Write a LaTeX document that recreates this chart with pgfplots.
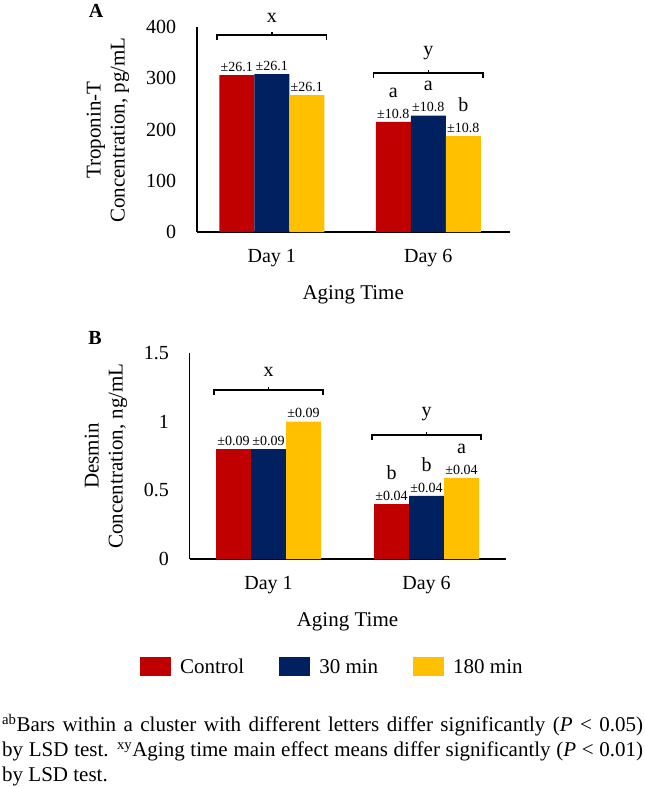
\documentclass[border=0pt]{standalone}
\usepackage{fontspec}
\setmainfont{Liberation Serif}
\usepackage{pgfplots}
\pgfplotsset{compat=1.18}

\definecolor{cred}{RGB}{192,0,0}
\definecolor{cnavy}{RGB}{0,32,96}
\definecolor{cgold}{RGB}{255,192,0}

\pgfplotsset{
  panel/.style={
    scale only axis,
    axis lines=left,
    axis line style={line width=1.8pt,-},
    ybar, bar width=35pt,
    xtick={0,1}, xticklabels={Day 1,Day 6},
    major tick length=0pt,
    tick label style={font=\fontsize{20}{24}\selectfont},
    /pgf/number format/assume math mode=true,
    yticklabel style={xshift=-17pt},
    xticklabel style={yshift=-14pt},
    ymin=0, clip=false,
    xlabel={Aging Time},
    every axis x label/.style={at={(axis description cs:0.5,0)}, anchor=base,
      yshift=-67pt, font=\fontsize{21}{24}\selectfont},
    point meta=explicit symbolic,
    nodes near coords=\pgfplotspointmeta,
    every node near coord/.append style={align=center, text=black,
      font=\fontsize{14}{21}\selectfont},
  },
  s1/.style={fill=cred, draw=none, bar shift=-35pt},
  s2/.style={fill=cnavy, draw=none, bar shift=0pt},
  s3/.style={fill=cgold, draw=none, bar shift=35pt},
}
\tikzset{
  brk/.style={line width=1.6pt},
  lett/.style={anchor=base, font=\fontsize{20}{24}\selectfont},
}
\newcommand{\lt}[1]{{\fontsize{20}{21}\selectfont #1}}

\begin{document}
\begin{tikzpicture}
\useasboundingbox (0,0) rectangle (645pt,-788pt);

% ---- panel A
\begin{axis}[panel,
  at={(196.7pt,-232pt)}, anchor=south west,
  width=313pt, height=205pt,
  xmin=-0.48, xmax=1.52,
  ymax=400, ytick={0,100,200,300,400},
]
\addplot[s1] coordinates {(0,306) [{±26.1}] (1,215) [{\lt{a}\\±10.8}]};
\addplot[s2] coordinates {(0,308) [{±26.1}] (1,227) [{\lt{a}\\±10.8}]};
\addplot[s3] coordinates {(0,267) [{±26.1}] (1,187) [{\lt{b}\\±10.8}]};

\draw[brk] ([yshift=-5pt]axis cs:-0.35,384) -- (axis cs:-0.35,384) -- (axis cs:0.35,384) -- ([yshift=-5pt]axis cs:0.35,384);
\draw[brk] (axis cs:0,384) -- ([yshift=3pt]axis cs:0,384);
\node[lett] at ([yshift=13pt]axis cs:0,384) {x};
\draw[brk] ([yshift=-5pt]axis cs:0.65,310) -- (axis cs:0.65,310) -- (axis cs:1.35,310) -- ([yshift=-5pt]axis cs:1.35,310);
\draw[brk] (axis cs:1,310) -- ([yshift=3pt]axis cs:1,310);
\node[lett] at ([yshift=18pt]axis cs:1,310) {y};
\end{axis}

% ---- panel B
\begin{axis}[panel,
  at={(189.5pt,-559pt)}, anchor=south west,
  width=316pt, height=206pt,
  xmin=-0.5, xmax=1.5,
  ymax=1.5, ytick={0,0.5,1,1.5},
  legend columns=3,
  legend style={at={(axis description cs:-0.157,-0.524)}, anchor=west,
    draw=none, fill=none, inner sep=0pt,
    font=\fontsize{21}{24}\selectfont,
    /tikz/every odd column/.append style={column sep=7pt},
    /tikz/every even column/.append style={column sep=33pt}},
  legend image code/.code={\fill[#1] (0pt,-9.5pt) rectangle (31pt,9.5pt);},
]
\addplot[s1] coordinates {(0,0.80) [{±0.09}] (1,0.40) [{\lt{b}\\±0.04}]};
\addplot[s2] coordinates {(0,0.80) [{±0.09}] (1,0.46) [{\lt{b}\\±0.04}]};
\addplot[s3] coordinates {(0,1.00) [{±0.09}] (1,0.59) [{\lt{a}\\±0.04}]};
\legend{Control,30 min,180 min}

\draw[brk] ([yshift=-5pt]axis cs:-0.345,1.231) -- (axis cs:-0.345,1.231) -- (axis cs:0.345,1.231) -- ([yshift=-5pt]axis cs:0.345,1.231);
\draw[brk] (axis cs:0,1.231) -- ([yshift=3pt]axis cs:0,1.231);
\node[lett] at ([yshift=13pt]axis cs:0,1.231) {x};
\draw[brk] ([yshift=-5pt]axis cs:0.655,0.903) -- (axis cs:0.655,0.903) -- (axis cs:1.345,0.903) -- ([yshift=-5pt]axis cs:1.345,0.903);
\draw[brk] (axis cs:1,0.903) -- ([yshift=3pt]axis cs:1,0.903);
\node[lett] at ([yshift=18pt]axis cs:1,0.903) {y};
\end{axis}

% ---- labels
\node[font=\bfseries\fontsize{20}{22}\selectfont] at (96pt,-11pt) {A};
\node[font=\bfseries\fontsize{20}{22}\selectfont] at (95pt,-338pt) {B};
\node[rotate=90, align=center, font=\fontsize{21}{24}\selectfont] at (108pt,-130pt)
  {Troponin-T\\Concentration, pg/mL};
\node[rotate=90, align=center, font=\fontsize{21}{24}\selectfont] at (106pt,-456pt)
  {Desmin\\Concentration, ng/mL};

\node[anchor=north west, inner sep=0pt, text width=641pt, align=justify,
  font=\fontsize{21}{25}\selectfont] at (2pt,-714pt)
  {\tolerance=10000\textsuperscript{ab}Bars within a cluster with different letters differ significantly (\textit{P} < 0.05)\linebreak
   by LSD test. \textsuperscript{xy}Aging time main effect means differ significantly (\textit{P} < 0.01)\linebreak
   by LSD test.};
\end{tikzpicture}
\end{document}
